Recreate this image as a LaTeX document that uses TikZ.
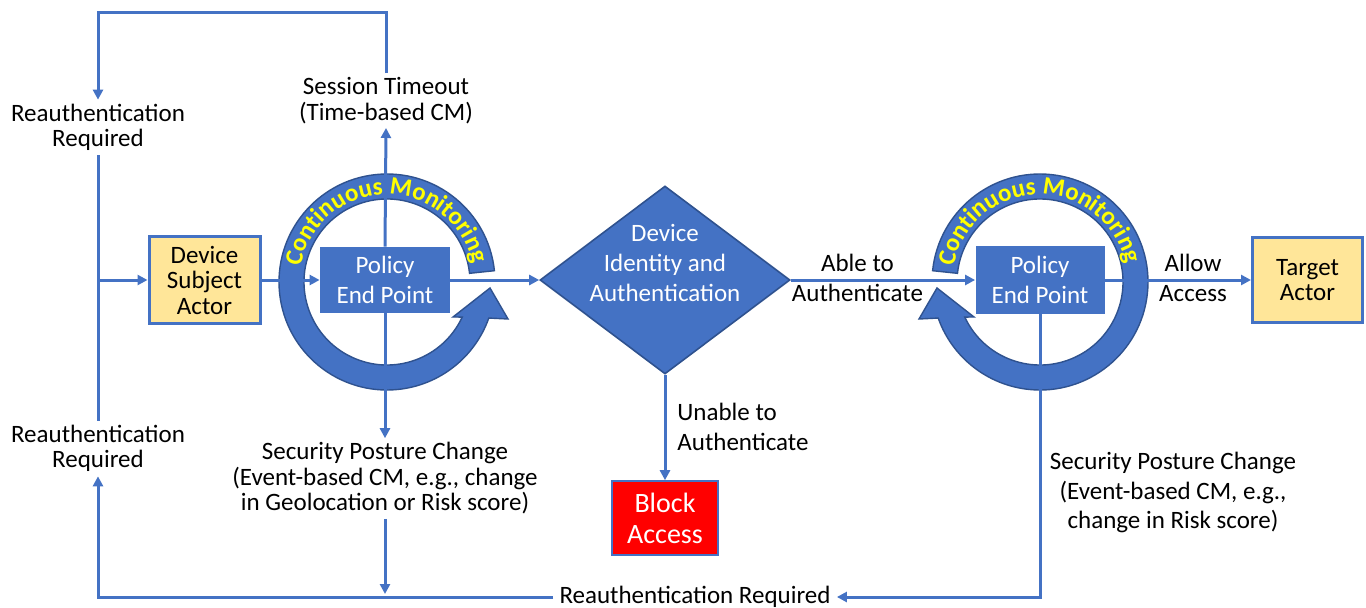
\documentclass[tikz,border=0pt]{standalone}
\usepackage{fontspec}
\setmainfont{Carlito}
\usetikzlibrary{arrows.meta,shapes.geometric,decorations.text}
\definecolor{lineblue}{HTML}{4472C4}
\definecolor{ringdraw}{HTML}{2F528F}
\definecolor{boxyellow}{HTML}{FFE699}
\definecolor{blockred}{HTML}{FF0000}
\definecolor{cmyellow}{HTML}{FFFF00}
\pgfdeclarelayer{bg}
\pgfsetlayers{bg,main}
\begin{document}
\begin{tikzpicture}[x=0.5pt,y=0.5pt,
  flow/.style={draw=lineblue,line width=1.5pt},
  arr/.style={-{Triangle[length=5pt,width=5pt]}},
  lbl/.style={font=\fontsize{12.5}{12.75}\selectfont,align=center,inner sep=2pt,text=black},
  lblwide/.style={font=\fontsize{12.5}{15}\selectfont,align=center,inner sep=2pt,text=black},
  actorbox/.style={draw=lineblue,line width=1.5pt,fill=boxyellow,align=center,inner sep=0pt,
    font=\fontsize{12.5}{12.75}\selectfont},
  pepbox/.style={fill=lineblue,align=center,inner sep=0pt,text=white,
    minimum width=65pt,minimum height=33pt,font=\fontsize{12.5}{15}\selectfont},
  ringshape/.style={fill=lineblue,draw=ringdraw,line width=0.7pt},
  ringtext/.style={decorate,decoration={text along path,text align=center,text color=cmyellow,
    text={|\bfseries\fontsize{12.5}{12.5}\selectfont|Continuous Monitoring}}}
]
\useasboundingbox (0,0) rectangle (1366,607);

% nodes
\node[lbl] (reauthTop) at (98,479.5) {Reauthentication\\Required};
\node[lbl] (sessTO) at (386,506.5) {Session Timeout\\(Time-based CM)};
\node[actorbox,minimum width=55.5pt,minimum height=43.5pt] (dsa) at (204.5,327) {Device\\Subject\\Actor};
\node[pepbox] (pepL) at (385,327) {Policy\\End Point};
\node[shape=diamond,minimum width=125pt,minimum height=94pt,inner sep=0pt,
      fill=lineblue,draw=ringdraw,line width=0.8pt] (dia) at (665,327) {};
\node[lblwide,text=white] (diaText) at (665,344) {Device\\Identity and\\Authentication};
\node[pepbox,minimum width=64.5pt,minimum height=34pt] (pepR) at (1040,327) {Policy\\End Point};
\node[actorbox,minimum width=55pt,minimum height=42.5pt] (target) at (1307.5,327) {Target\\Actor};
\node[draw=lineblue,line width=0.8pt,fill=blockred,text=white,align=center,inner sep=0pt,
      minimum width=53pt,minimum height=37pt,font=\fontsize{14}{15.5}\selectfont] (blockA) at (665,89) {Block\\Access};
\node[lbl] (reauthLow) at (98,158.5) {Reauthentication\\Required};
\node[lbl] (spcL) at (385,128.5) {Security Posture Change\\(Event-based CM, e.g., change\\in Geolocation or Risk score)};
\node[font=\fontsize{12.5}{14.75}\selectfont,align=center,inner sep=2pt] (spcR) at (1173,114.5) {Security Posture Change\\(Event-based CM, e.g.,\\change in Risk score)};
\node[lbl,inner xsep=3pt] (reauthBot) at (695,10) {Reauthentication Required};
\node[lblwide,anchor=west,inner sep=0pt,align=left] (unable) at (677,180) {Unable to\\Authenticate};
\node[lblwide] (able) at (857.5,329) {Able to\\Authenticate};
\node[lblwide] (allow) at (1193,329) {Allow\\Access};

% coordinates
\coordinate (tr) at (386,595);
\coordinate (tl) at (98,595);
\coordinate (jn) at (98,327);
\coordinate (bl) at (98,10);
\coordinate (br) at (1040,10);
\coordinate (spcEnd) at (385,13);

% rings
\begin{pgfonlayer}{bg}
\fill[white] (0,0) rectangle (1366,607);
\begin{scope}[shift={(387,325)}]
  \path[ringshape] (6:108) arc[start angle=6,end angle=340.5,radius=54pt]
    -- (121,-37) -- (103,-6) -- (66,-35) -- (335:83)
    arc[start angle=335,end angle=6,radius=41.5pt] -- cycle;
  \path[ringtext] (178:87.5) arc[start angle=178,end angle=4,radius=43.75pt];
\end{scope}
\begin{scope}[shift={(1040,325)},xscale=-1]
  \path[ringshape] (6:108) arc[start angle=6,end angle=340.5,radius=54pt]
    -- (121,-37) -- (103,-6) -- (66,-35) -- (335:83)
    arc[start angle=335,end angle=6,radius=41.5pt] -- cycle;
\end{scope}
\begin{scope}[shift={(1040,325)}]
  \path[ringtext] (178:87.5) arc[start angle=178,end angle=4,radius=43.75pt];
\end{scope}
\end{pgfonlayer}

% connectors
\draw[flow,arr] (sessTO.north) -- (tr) -- (tl) -- (reauthTop.north);
\draw[flow] (reauthTop.south) -- (reauthLow.north);
\draw[flow,arr] (jn) -- (dsa.west);
\draw[flow,arr] (dsa.east) -- (pepL.west);
\draw[flow,arr] (pepL.east) -- (dia.west);
\draw[flow,arr] (pepL.north) -- (sessTO.south);
\draw[flow,arr] (pepL.south) -- (spcL.north);
\draw[flow,arr] (spcL.south) -- (spcEnd);
\draw[flow,arr] (dia.east) -- (pepR.west);
\draw[flow,arr] (pepR.east) -- (target.west);
\draw[flow,arr] (dia.south) -- (blockA.north);
\draw[flow,arr] (pepR.south) -- (br) -- (reauthBot.east);
\draw[flow,arr] (reauthBot.west) -- (bl) -- (reauthLow.south);
\end{tikzpicture}
\end{document}
